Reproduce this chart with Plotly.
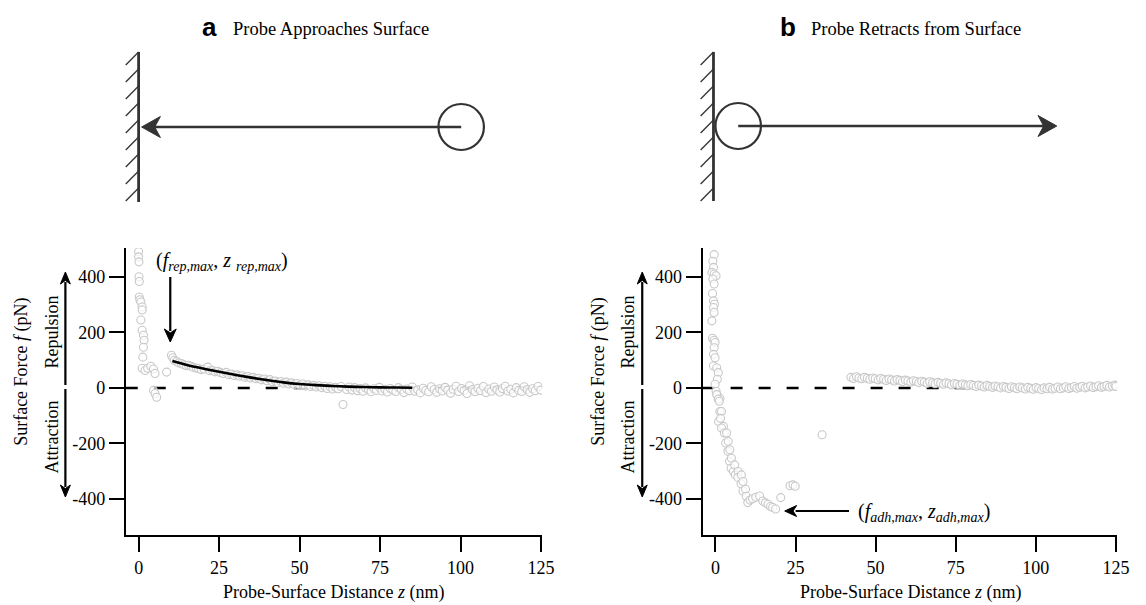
import plotly.graph_objects as go

W, H = 1146, 605
PAD = 8      # default page body margin
FW, FH = W - PAD, H - PAD

# ---------------- data ----------------
tick_vals_y = [-400, -200, 0, 200, 400]
tick_text_y = ["-400", "-200", "0", "200", "400"]
tick_vals_x = [0, 25, 50, 75, 100, 125]
tick_text_x = ["0", "25", "50", "75", "100", "125"]

# (a) approach: points close to the wall
app_z_wall = [0.0, 0.0, 0.1, 0.1, 0.2, 0.2, 0.4, 0.7, 1.1, 1.1, 0.7, 1.1, 1.5, 1.7, 1.5, 1.3,
              1.1, 2.0, 2.8, 3.8, 4.6, 5.1, 4.6, 5.1, 5.6, 8.7]
app_f_wall = [492, 473, 455, 401, 384, 328, 318, 310, 292, 281, 245, 208, 190, 172, 147, 111,
              71, 63, 71, 78, 68, 52, -9, -20, -34, 57]

# (a) approach: points further out
app_z_far = [10.2, 10.6, 11.1, 11.8, 12.5, 13.3, 14.0, 14.8, 15.5, 16.3, 17.0, 17.9, 18.6, 19.4,
             20.3, 21.5, 22.1, 23.0, 23.8, 24.6, 25.5, 26.3, 27.2, 28.0, 28.9, 29.7, 30.6, 31.4,
             32.3, 33.1, 34.0, 34.8, 35.7, 36.5, 37.4, 38.2, 39.1, 39.9, 40.8, 41.6, 42.5, 43.3,
             44.2, 45.0, 45.9, 46.7, 47.6, 48.4, 49.3, 50.1, 51.0, 51.8, 52.7, 53.5, 54.4, 55.2,
             56.1, 56.9, 57.8, 58.6, 59.5, 60.3, 61.2, 62.0, 62.9, 63.5, 64.6, 65.4, 66.3, 67.1,
             68.0, 68.8, 69.7, 70.5, 71.4, 72.2, 73.1, 73.9, 74.8, 75.6, 76.5, 77.3, 78.2, 79.0,
             79.9, 80.7, 81.6, 82.4, 83.3, 84.1, 85.0, 85.8, 86.7, 87.5, 88.4, 89.2, 90.1, 90.9,
             91.8, 92.6, 93.5, 94.3, 95.2, 96.0, 96.9, 97.7, 98.6, 99.4, 100.3, 101.1, 102.0,
             102.8, 103.7, 104.5, 105.4, 106.2, 107.1, 107.9, 108.8, 109.6, 110.5, 111.3, 112.2,
             113.0, 113.9, 114.7, 115.6, 116.4, 117.3, 118.1, 119.0, 119.8, 120.7, 121.5, 122.4,
             123.2, 124.1, 124.9]
app_f_far = [118, 109, 100, 95, 90, 88, 84, 80, 82, 78, 74, 72, 70, 66,
             68, 75, 62, 63, 58, 60, 55, 52, 56, 48, 50, 45, 47, 42,
             44, 38, 41, 36, 38, 33, 35, 29, 32, 26, 30, 22, 25, 19,
             23, 17, 21, 14, 18, 12, 16, 10, 14, 7, 11, 5, 9, 3,
             8, 1, 6, -2, 4, -4, 2, -3, 5, -60, -6, 3, -8, 1,
             -10, -2, -12, 0, -7, -14, -3, -9, 2, -11, -5, -15, -2, -8,
             -13, 1, -6, -17, -4, -10, 3, -12, -7, -18, -1, -9, -14, 4,
             -6, -16, -3, -11, 2, -8, -19, -5, 6, -13, -2, -9, -20,
             8, -6, -14, -1, -10, 5, -17, -4, -12, 3, -7, -15,
             -2, 6, -11, -5, -18, 1, -9, -13, 4, -6, -16, -3,
             -10, 5, -8]

# (a) fitted repulsion curve
fit_z = [10.5, 15, 20, 25, 30, 35, 40, 45, 50, 55, 60, 65, 70, 75, 80, 85]
fit_f = [97, 83, 70, 58, 47, 37, 28, 20, 14, 10, 7, 4.5, 3, 2, 1.2, 0.8]

# (b) retract: points at the wall
ret_z_wall = [-0.4, -0.8, -0.6, -1.1, -0.4, 0.2, -0.8, -0.4, -0.9, -0.6, -0.3, -0.6, -0.4, -1.1,
              -0.9, -0.4, -0.1, -0.4, -0.6, -0.1, -0.6, 0.4, 0.9, 0.6, -0.1, 0.2, 0.6, 1.4]
ret_f_wall = [481, 457, 435, 417, 411, 405, 393, 375, 341, 314, 302, 290, 272, 242,
              179, 172, 164, 145, 121, 109, 79, 73, 55, 31, 13, -12, -26, -38]

# (b) retract: adhesion drop
ret_z_drop = [0.4, 0.9, 1.2, 1.4, 1.9, 1.0, 1.6, 2.5, 1.9, 2.8, 3.5, 3.2, 4.0, 3.9, 4.5, 4.4,
              5.0, 4.9, 5.6, 6.0, 6.2, 7.1, 7.0, 8.1, 8.0, 8.6, 8.6, 9.4, 9.6, 10.1, 10.8, 11.6,
              12.6, 13.8, 14.8, 15.6, 16.4, 17.2, 17.9, 18.8, 20.4, 23.3, 24.2, 24.9, 33.3]
ret_f_drop = [-24, -41, -48, -85, -85, -121, -110, -139, -145, -163, -163, -199, -193, -229,
              -223, -265, -254, -290, -302, -278, -314, -302, -323, -314, -346, -338, -372,
              -366, -391, -414, -405, -400, -395, -390, -408, -415, -420, -428, -432, -437,
              -396, -353, -350, -355, -169]

# (b) retract: far points
ret_z_far = [42.3, 43.1, 44.0, 44.8, 45.7, 46.5, 47.4, 48.2, 49.1, 49.9, 50.8, 51.6, 52.5, 53.3,
             54.2, 55.0, 55.9, 56.7, 57.6, 58.4, 59.3, 60.1, 61.0, 61.8, 62.7, 63.5, 64.4, 65.2,
             66.1, 66.9, 67.8, 68.6, 69.5, 70.3, 71.2, 72.0, 72.9, 73.7, 74.6, 75.4, 76.3, 77.1,
             78.0, 78.8, 79.7, 80.5, 81.4, 82.2, 83.1, 83.9, 84.8, 85.6, 86.5, 87.3, 88.2, 89.0,
             89.9, 90.7, 91.6, 92.4, 93.3, 94.1, 95.0, 95.8, 96.7, 97.5, 98.4, 99.2, 100.1,
             100.9, 101.8, 102.6, 103.5, 104.3, 105.2, 106.0, 106.9, 107.7, 108.6, 109.4, 110.3,
             111.1, 112.0, 112.8, 113.7, 114.5, 115.4, 116.2, 117.1, 117.9, 118.8, 119.6, 120.5,
             121.3, 122.2, 123.0, 123.9, 124.7, 125.0]
ret_f_far = [38, 34, 40, 36, 33, 38, 35, 31, 36, 33, 29, 34, 31, 27,
             32, 29, 25, 30, 27, 23, 28, 25, 21, 26, 23, 19, 24, 21,
             17, 22, 19, 15, 20, 17, 13, 18, 15, 11, 16, 13, 9, 14,
             11, 8, 12, 9, 5, 10, 7, 3, 9, 5, 2, 7, 4, 0,
             5, 2, -2, 4, 1, -3, 3, 0, -4, 2, -1, -5, 1,
             -2, -6, 0, -3, 2, -4, -1, 3, -3, 0, 4, -2,
             1, 5, -1, 2, 6, 0, 3, 7, 1, 4, 8, 2,
             5, 9, 3, 7, 10, 5]

# ---------------- figure ----------------
FONT = "Liberation Serif"
GRAY = "#c8c8c8"
DARK = "#333333"


def X(p):
    return (p - PAD) / FW


def Y(p):
    return 1 - (p - PAD) / FH


fig = go.Figure()

marker = dict(symbol="circle", size=8, color="rgba(255,255,255,0.7)",
              line=dict(color=GRAY, width=1.1))

for ax, zs, fs in [("", app_z_wall + app_z_far, app_f_wall + app_f_far),
                   ("2", ret_z_wall + ret_z_drop + ret_z_far, ret_f_wall + ret_f_drop + ret_f_far)]:
    fig.add_trace(go.Scatter(x=zs, y=fs, mode="markers", marker=marker,
                             xaxis="x" + ax, yaxis="y" + ax, showlegend=False,
                             hoverinfo="skip"))

fig.add_trace(go.Scatter(x=fit_z, y=fit_f, mode="lines", line=dict(color="black", width=2.6, shape="spline"),
                         xaxis="x", yaxis="y", showlegend=False, hoverinfo="skip"))

x_dom1 = [X(127), X(548)]
x_dom2 = [X(710), X(1129)]
y_dom = [Y(535), Y(248)]

axis_common = dict(showline=True, linecolor="black", linewidth=2, ticks="outside", ticklen=15,
                   tickwidth=2, tickcolor="black", showgrid=False, zeroline=False,
                   tickfont=dict(family=FONT, size=18, color="black"))

xr = [-4, 125.4]
yr = [-531, 505]
fig.update_layout(
    width=FW, height=FH, margin=dict(l=0, r=0, t=0, b=0),
    plot_bgcolor="white", paper_bgcolor="white",
    xaxis=dict(domain=x_dom1, range=xr, anchor="y", tickvals=tick_vals_x, ticktext=tick_text_x, **axis_common),
    yaxis=dict(domain=y_dom, range=yr, anchor="x", tickvals=tick_vals_y, ticktext=tick_text_y, **axis_common),
    xaxis2=dict(domain=x_dom2, range=xr, anchor="y2", tickvals=tick_vals_x, ticktext=tick_text_x, **axis_common),
    yaxis2=dict(domain=y_dom, range=yr, anchor="x2", tickvals=tick_vals_y, ticktext=tick_text_y, **axis_common),
)

shapes = []
annotations = []

# zero dashed lines
for xa, ya in [("x", "y"), ("x2", "y2")]:
    shapes.append(dict(type="line", xref=xa + " domain", yref=ya, x0=0, x1=1, y0=0, y1=0,
                       layer="below", line=dict(color="black", width=2.5, dash="12px,16px")))


def line_px(x0, y0, x1, y1, color=DARK, width=2.5):
    shapes.append(dict(type="line", xref="paper", yref="paper", x0=X(x0), y0=Y(y0), x1=X(x1), y1=Y(y1),
                       line=dict(color=color, width=width)))


def head_px(tx, ty, dx, dy, L, hw, color=DARK, notch=0.3):
    bx, by = tx - L * dx, ty - L * dy
    px_, py_ = -dy, dx
    c1 = (bx + hw * px_, by + hw * py_)
    c2 = (bx - hw * px_, by - hw * py_)
    nx, ny = tx - (1 - notch) * L * dx, ty - (1 - notch) * L * dy
    path = "M {},{} L {},{} L {},{} L {},{} Z".format(
        X(tx), Y(ty), X(c1[0]), Y(c1[1]), X(nx), Y(ny), X(c2[0]), Y(c2[1]))
    shapes.append(dict(type="path", xref="paper", yref="paper", path=path,
                       fillcolor=color, line=dict(color=color, width=1)))


def circle_px(cx, cy, r, color=DARK, width=2.2):
    shapes.append(dict(type="circle", xref="paper", yref="paper", x0=X(cx - r), x1=X(cx + r),
                       y0=Y(cy + r), y1=Y(cy - r), line=dict(color=color, width=width)))


def text_px(x, y, text, size=18, xanchor="center", family=FONT, angle=0):
    annotations.append(dict(xref="paper", yref="paper", x=X(x), y=Y(y), text=text, showarrow=False,
                            xanchor=xanchor, yanchor="middle", textangle=angle,
                            font=dict(family=family, size=size, color="black")))


# ---- schematic a ----
wall_a = 140
line_px(wall_a, 52, wall_a, 202, width=2.8)
for yy in [52, 69, 86, 103, 120, 137, 154, 171, 188]:
    line_px(wall_a, yy, wall_a - 13, yy + 13, width=1.3)
circle_px(466, 127, 23)
line_px(466, 127, 156, 127, width=2.5)
head_px(143, 127, -1, 0, 19, 10.5)

# ---- schematic b ----
wall_b = 721
line_px(wall_b, 52, wall_b, 201, width=2.8)
for yy in [52, 69, 86, 103, 120, 137, 154, 171, 188]:
    line_px(wall_b, yy, wall_b - 13, yy + 13, width=1.3)
circle_px(746, 126, 23)
line_px(746, 126, 1055, 126, width=2.5)
head_px(1068, 126, 1, 0, 19, 10.5)

# titles
text_px(202, 27, "<b>a</b>", size=26, xanchor="left", family="Liberation Sans")
text_px(233, 29, "Probe Approaches Surface", size=18.5, xanchor="left")
text_px(786, 27, "<b>b</b>", size=26, xanchor="left", family="Liberation Sans")
text_px(818, 29, "Probe Retracts from Surface", size=18.5, xanchor="left")

# axis decorations for both panels
for off in [0, 583]:
    text_px(21 + off, 372, "Surface Force <i>f</i> (pN)", angle=-90)
    text_px(52 + off, 332, "Repulsion", angle=-90)
    text_px(52 + off, 437, "Attraction", angle=-90)
    line_px(66 + off, 385, 66 + off, 282, color="black", width=2.2)
    head_px(66 + off, 272, 0, -1, 12, 5, color="black")
    line_px(66 + off, 389, 66 + off, 487, color="black", width=2.2)
    head_px(66 + off, 497, 0, 1, 12, 5, color="black")
    text_px(337 + off, 592, "Probe-Surface Distance <i>z</i> (nm)")

# in-plot labels
text_px(224, 261, "(<i>f<sub>rep,max</sub></i>, <i>z</i> <i><sub>rep,max</sub></i>)", size=20)
line_px(172, 277, 172, 331, color="black", width=2.2)
head_px(172, 342, 0, 1, 13, 6, color="black")

text_px(934, 512, "(<i>f<sub>adh,max</sub></i>, <i>z<sub>adh,max</sub></i>)", size=20)
line_px(858, 511, 804, 511, color="black", width=2.2)
head_px(793, 511, -1, 0, 12, 5.5, color="black")

fig.update_layout(shapes=shapes, annotations=annotations)

fig.write_html("out.html")
